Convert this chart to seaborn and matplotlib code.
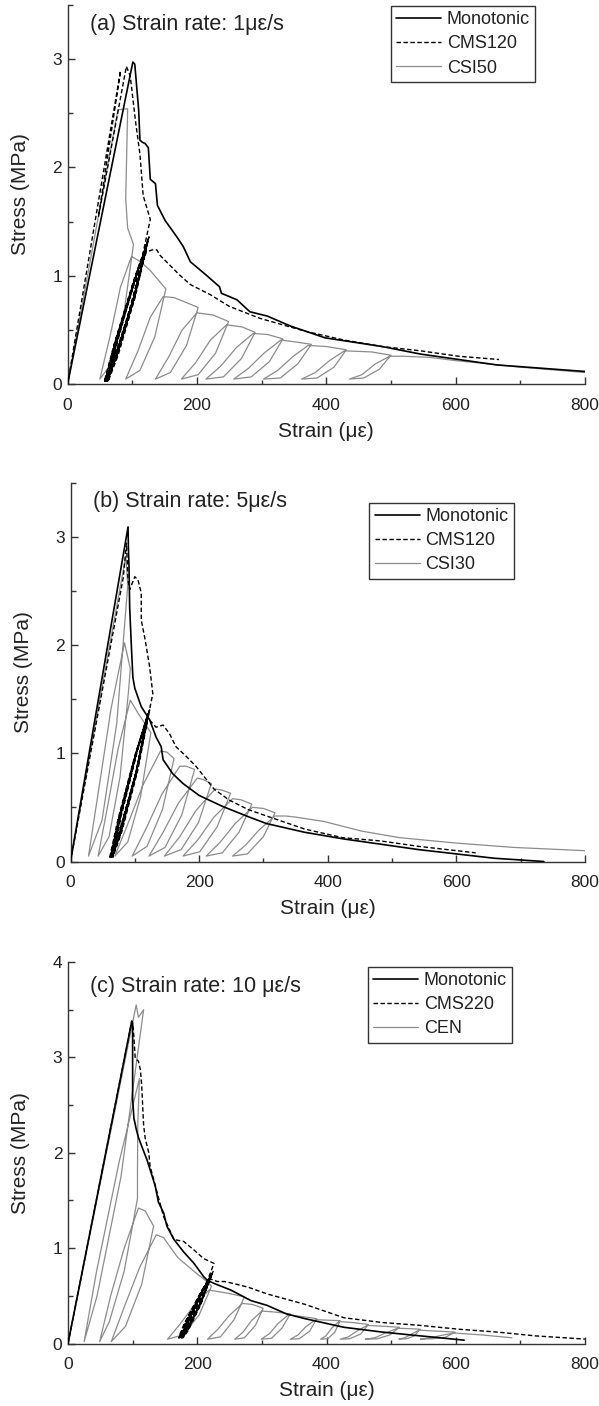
import matplotlib
matplotlib.use("Agg")
import matplotlib.pyplot as plt
import numpy as np
import pandas as pd
import seaborn as sns
from matplotlib.ticker import MultipleLocator

# ---------------- data (strain in micro-strain, stress in MPa) ----------------
# Panel (a): strain rate 1 με/s
a_mono_x = [0, 101, 104, 106, 110, 112, 116, 120, 125, 128, 136, 139, 151, 169, 179, 190, 214, 235, 238,
            262, 282, 309, 344, 398, 486, 546, 605, 664, 800]
a_mono_y = [0, 2.97, 2.95, 2.81, 2.53, 2.25, 2.23, 2.22, 2.18, 1.89, 1.85, 1.65, 1.51, 1.36, 1.27, 1.13, 1.01,
            0.90, 0.84, 0.78, 0.67, 0.63, 0.54, 0.43, 0.35, 0.28, 0.23, 0.18, 0.12]

a_cms_x = [0, 82, 48, 91, 97, 105, 112, 117, 128,
           106, 78, 62, 76, 104, 123,
           102, 75, 60, 74.5, 103, 122,
           101, 74, 59, 73.5, 102, 121,
           100, 73.4, 58, 73.7, 104, 124,
           103, 76.4, 61, 76, 105.6, 125,
           104.6, 78.2, 63, 77.8, 107, 126,
           104, 76, 60, 74, 101.6, 120,
           99, 72.4, 57, 72.4, 102.4, 122,
           100.8, 73.6, 58, 73, 102.6, 122,
           131, 138, 143, 158, 173, 190, 220, 250, 297, 368, 427, 486, 546, 605, 667]
a_cms_y = [0, 2.89, 1.55, 2.93, 2.84, 2.43, 2.12, 1.74, 1.52,
           0.912, 0.304, 0.03, 0.387, 0.97, 1.29,
           0.774, 0.258, 0.03, 0.381, 0.95, 1.27,
           0.762, 0.254, 0.03, 0.375, 0.94, 1.25,
           0.75, 0.25, 0.03, 0.396, 0.99, 1.32,
           0.792, 0.264, 0.03, 0.402, 1.005, 1.34,
           0.804, 0.268, 0.03, 0.408, 1.02, 1.36,
           0.816, 0.272, 0.03, 0.372, 0.93, 1.24,
           0.744, 0.248, 0.03, 0.378, 0.945, 1.26,
           0.756, 0.252, 0.03, 0.366, 0.915, 1.22,
           1.24, 1.24, 1.19, 1.10, 1.01, 0.92, 0.83, 0.72, 0.61, 0.49, 0.41, 0.35, 0.31, 0.26, 0.23]

a_csi_x = [0, 78, 93, 90, 93, 102,
           87, 68, 50, 66, 82, 99,
           113, 128, 152,
           135, 112, 90, 109, 128, 148,
           165, 202,
           184, 159, 136, 156, 177, 200,
           225, 249,
           229, 202, 176, 198, 221, 246,
           270, 290,
           269, 241, 214, 237, 261, 287,
           310, 333,
           312, 284, 257, 280, 304, 330,
           355, 377,
           356, 329, 303, 325, 349, 372,
           400, 431,
           412, 386, 362, 383, 405, 428,
           470, 500,
           482, 458, 436, 455, 476, 498,
           520, 560, 600, 650, 700, 800]
a_csi_y = [0, 2.53, 2.54, 1.71, 1.44, 1.29,
           0.65, 0.19, 0.05, 0.45, 0.90, 1.18,
           1.13, 1.05, 0.88,
           0.44, 0.13, 0.05, 0.31, 0.62, 0.81,
           0.80, 0.71,
           0.36, 0.11, 0.05, 0.25, 0.50, 0.66,
           0.64, 0.58,
           0.29, 0.09, 0.05, 0.20, 0.41, 0.55,
           0.53, 0.48,
           0.24, 0.07, 0.05, 0.17, 0.34, 0.47,
           0.46, 0.42,
           0.21, 0.07, 0.05, 0.15, 0.29, 0.41,
           0.39, 0.37,
           0.19, 0.06, 0.05, 0.13, 0.26, 0.36,
           0.35, 0.32,
           0.16, 0.06, 0.05, 0.11, 0.22, 0.31,
           0.30, 0.27,
           0.14, 0.06, 0.05, 0.09, 0.19, 0.26,
           0.26, 0.25, 0.22, 0.19, 0.16, 0.11]

# Panel (b): strain rate 5 με/s
b_mono_x = [0, 89.5, 90, 91, 92, 94.7, 97, 100, 110, 123, 133, 141, 144, 159, 175, 200, 236, 278, 305, 364,
            423, 482, 541, 600, 659, 736]
b_mono_y = [0, 3.09, 2.90, 2.72, 2.35, 1.98, 1.70, 1.60, 1.43, 1.31, 1.15, 1.06, 0.94, 0.81, 0.72, 0.61, 0.51,
            0.41, 0.35, 0.27, 0.21, 0.16, 0.11, 0.07, 0.03, 0.0]

b_cms_x = [0, 82, 87, 89.5, 92, 100, 105, 110, 110, 115, 118, 123, 128,
           106.7, 79.4, 64, 76.6, 102.6, 120,
           101.5, 77, 63, 75.6, 101.6, 119,
           101.8, 78.5, 65, 77.6, 103.6, 121,
           101.7, 76.4, 62, 74.6, 100.6, 118,
           100.8, 77.5, 64, 77.5, 104.8, 123,
           104.5, 80, 66, 78.6, 104.6, 122,
           102.7, 77.4, 63, 75.9, 102.3, 120,
           100.7, 75.4, 61, 73.9, 100.3, 118,
           124, 133, 144, 154, 164, 180, 195, 223, 246, 276, 305, 364, 423, 482, 541, 630]
b_cms_y = [0, 2.62, 2.94, 2.60, 2.51, 2.63, 2.60, 2.48, 2.23, 2.08, 1.98, 1.80, 1.55,
           0.93, 0.31, 0.04, 0.408, 1.02, 1.36,
           0.816, 0.272, 0.04, 0.399, 0.998, 1.33,
           0.798, 0.266, 0.04, 0.411, 1.028, 1.37,
           0.822, 0.274, 0.04, 0.39, 0.975, 1.30,
           0.78, 0.26, 0.04, 0.42, 1.05, 1.40,
           0.84, 0.28, 0.04, 0.414, 1.035, 1.38,
           0.828, 0.276, 0.04, 0.399, 0.998, 1.33,
           0.798, 0.266, 0.04, 0.393, 0.983, 1.31,
           1.30, 1.24, 1.26, 1.18, 1.06, 0.97, 0.88, 0.67, 0.57, 0.48, 0.42, 0.30, 0.22, 0.19, 0.14, 0.08]

b_csi_x = [0, 86, 89,
           72, 49, 28, 45, 63, 84,
           93, 90,
           77, 60, 43, 58, 74, 93,
           105, 125,
           109, 89, 69, 90, 113, 140,
           150, 161,
           143, 119, 96, 118, 142, 170,
           180, 193,
           173, 147, 122, 144, 168, 197,
           205, 219,
           199, 172, 146, 170, 195, 225,
           235, 249,
           228, 201, 175, 198, 223, 252,
           265, 282,
           262, 236, 211, 233, 256, 283,
           300, 318,
           300, 275, 252, 272, 293, 318,
           335, 350, 394, 453, 512, 600, 689, 800]
b_csi_y = [0, 2.82, 2.55,
           1.28, 0.38, 0.05, 0.71, 1.41, 2.02,
           1.78, 1.56,
           0.78, 0.23, 0.05, 0.52, 1.04, 1.49,
           1.37, 1.19,
           0.60, 0.18, 0.05, 0.36, 0.71, 1.02,
           1.01, 0.95,
           0.48, 0.14, 0.05, 0.31, 0.62, 0.88,
           0.88, 0.85,
           0.43, 0.13, 0.05, 0.27, 0.54, 0.77,
           0.76, 0.72,
           0.36, 0.11, 0.05, 0.23, 0.47, 0.67,
           0.66, 0.63,
           0.32, 0.09, 0.05, 0.20, 0.41, 0.58,
           0.57, 0.53,
           0.27, 0.08, 0.05, 0.18, 0.35, 0.50,
           0.49, 0.45,
           0.23, 0.07, 0.05, 0.15, 0.29, 0.42,
           0.42, 0.41, 0.37, 0.28, 0.22, 0.17, 0.13, 0.10]

# Panel (c): strain rate 10 με/s
c_mono_x = [0, 98.7, 100, 100, 102, 104, 105.5, 109, 114, 122, 130, 135, 140, 148, 153, 164, 179, 195, 210,
            216, 226, 252, 283, 308, 338, 367, 427, 486, 545, 613]
c_mono_y = [0, 3.38, 3.36, 2.57, 2.36, 2.30, 2.25, 2.16, 2.07, 1.93, 1.76, 1.65, 1.48, 1.37, 1.23, 1.09, 0.96,
            0.84, 0.70, 0.66, 0.63, 0.56, 0.45, 0.40, 0.31, 0.26, 0.17, 0.12, 0.08, 0.035]

c_cms_x = [0, 98.7, 101, 104, 109, 112, 114, 117, 119.5, 125, 127, 138, 148, 164, 179, 195, 210, 226,
           206.7, 182.5, 172, 181.3, 205.9, 222,
           205, 183.1, 174, 182.5, 205.7, 221,
           204.9, 183.8, 175, 183.9, 207.4, 223,
           206.5, 185.1, 176, 183.8, 205.4, 220,
           205.6, 186.2, 178, 185.9, 207.5, 222,
           206.3, 185.7, 177, 186, 209.5, 225,
           206.4, 182.8, 173, 181.8, 205.4, 221,
           203.2, 180.3, 171, 179.6, 203.3, 219,
           231, 242, 249, 279, 308, 367, 427, 486, 545, 604, 664, 723, 800]
c_cms_y = [0, 3.38, 3.31, 2.99, 2.96, 2.87, 2.71, 2.29, 2.15, 2.00, 1.86, 1.58, 1.33, 1.09, 1.07, 0.98, 0.89, 0.84,
           0.504, 0.168, 0.06, 0.216, 0.54, 0.72,
           0.432, 0.144, 0.06, 0.21, 0.525, 0.70,
           0.42, 0.14, 0.06, 0.222, 0.555, 0.74,
           0.444, 0.148, 0.06, 0.207, 0.518, 0.69,
           0.414, 0.138, 0.06, 0.213, 0.533, 0.71,
           0.426, 0.142, 0.06, 0.228, 0.57, 0.76,
           0.456, 0.152, 0.06, 0.213, 0.533, 0.71,
           0.426, 0.142, 0.06, 0.204, 0.51, 0.68,
           0.65, 0.65, 0.64, 0.59, 0.52, 0.41, 0.27, 0.22, 0.19, 0.15, 0.12, 0.08, 0.046]

c_cen_x = [0, 105.5, 109, 117,
           82, 45, 25, 44, 79, 110.6,
           108, 107.5, 107.5,
           87, 64, 49, 66, 87, 109,
           119.5, 132.5,
           114, 89, 67, 88, 111, 136.6,
           148, 153, 170, 198, 213, 222,
           203, 178, 154, 173, 194, 218,
           245, 273,
           257, 236, 216, 232, 249, 270,
           285, 302,
           290, 273, 258, 271, 284, 300,
           320, 344,
           331, 315, 299, 312, 325, 341,
           365, 385,
           374, 358, 344, 356, 368, 383,
           400, 421,
           413, 402, 391, 399, 408, 419,
           440, 465,
           453, 436, 421, 434, 447, 463,
           490, 513,
           498, 479, 460, 475, 491, 510,
           530, 545,
           536, 524, 512, 521, 532, 543,
           570, 599,
           584, 564, 545, 561, 578, 597,
           640, 687]
c_cen_y = [0, 3.55, 3.42, 3.50,
           1.75, 0.50, 0.02, 0.75, 1.90, 2.78,
           2.30, 1.80, 1.52,
           0.76, 0.23, 0.02, 0.50, 1.00, 1.42,
           1.39, 1.23,
           0.62, 0.18, 0.02, 0.40, 0.80, 1.14,
           1.11, 1.06, 0.90, 0.74, 0.66, 0.60,
           0.30, 0.09, 0.045, 0.20, 0.39, 0.56,
           0.53, 0.49,
           0.25, 0.07, 0.045, 0.15, 0.29, 0.42,
           0.41, 0.37,
           0.19, 0.06, 0.045, 0.12, 0.24, 0.34,
           0.33, 0.31,
           0.16, 0.055, 0.045, 0.105, 0.21, 0.30,
           0.28, 0.26,
           0.13, 0.05, 0.045, 0.09, 0.175, 0.25,
           0.245, 0.24,
           0.12, 0.05, 0.045, 0.08, 0.16, 0.23,
           0.22, 0.20,
           0.10, 0.05, 0.045, 0.07, 0.13, 0.19,
           0.18, 0.17,
           0.09, 0.05, 0.045, 0.06, 0.11, 0.16,
           0.155, 0.15,
           0.08, 0.05, 0.045, 0.06, 0.10, 0.14,
           0.13, 0.12,
           0.065, 0.05, 0.045, 0.06, 0.085, 0.11,
           0.09, 0.06]

panel_titles = ["(a) Strain rate: 1\u03bc\u03b5/s", "(b) Strain rate: 5\u03bc\u03b5/s",
                "(c) Strain rate: 10 \u03bc\u03b5/s"]
legend_labels = [["Monotonic", "CMS120", "CSI50"],
                 ["Monotonic", "CMS120", "CSI30"],
                 ["Monotonic", "CMS220", "CEN"]]
x_ticks = [0, 200, 400, 600, 800]

# ---------------- style ----------------
sns.set_theme(style="ticks")
plt.rcParams["font.family"] = ["Liberation Sans", "DejaVu Sans"]
plt.rcParams.update({
    "axes.edgecolor": "#333333",
    "axes.linewidth": 1.0,
    "xtick.color": "#333333",
    "ytick.color": "#333333",
    "xtick.labelcolor": "#222222",
    "ytick.labelcolor": "#222222",
    "xtick.direction": "in",
    "ytick.direction": "in",
    "xtick.major.size": 5,
    "ytick.major.size": 5,
    "xtick.minor.size": 3,
    "ytick.minor.size": 3.5,
    "xtick.major.width": 1.0,
    "ytick.major.width": 1.0,
    "xtick.minor.width": 1.0,
    "ytick.minor.width": 1.0,
})

fig = plt.figure(figsize=(5.99, 14.06), dpi=100)
W, H = 599.0, 1406.0
# (left px, right px, bottom px (y=0), top px)
frames = [(67.5, 585.0, 384.5, 4.5), (70.5, 585.0, 861.5, 482.5), (68.0, 585.0, 1343.5, 962.0)]
ytops = [3.5, 3.5, 4.0]
legend_anchor = [(0.625, 0.997), (0.581, 0.947), (0.580, 0.988)]
title_pos = [(0.043, 0.947), (0.044, 0.949), (0.042, 0.935)]

series = [
    (a_mono_x, a_mono_y, a_cms_x, a_cms_y, a_csi_x, a_csi_y),
    (b_mono_x, b_mono_y, b_cms_x, b_cms_y, b_csi_x, b_csi_y),
    (c_mono_x, c_mono_y, c_cms_x, c_cms_y, c_cen_x, c_cen_y),
]

gray = "#8c8c8c"
dash = (0, (3.2, 1.8))

for i, (l, r, b, t) in enumerate(frames):
    ax = fig.add_axes([l / W, 1 - b / H, (r - l) / W, (b - t) / H])
    mx, my, cx, cy, gx, gy = series[i]
    labs = legend_labels[i]
    sns.lineplot(data=pd.DataFrame({"strain": gx, "stress": gy}), x="strain", y="stress",
                 sort=False, estimator=None, ax=ax, color=gray, linewidth=0.9, label=labs[2], zorder=1)
    sns.lineplot(data=pd.DataFrame({"strain": cx, "stress": cy}), x="strain", y="stress",
                 sort=False, estimator=None, ax=ax, color="black", linewidth=1.0, linestyle=dash,
                 label=labs[1], zorder=2)
    sns.lineplot(data=pd.DataFrame({"strain": mx, "stress": my}), x="strain", y="stress",
                 sort=False, estimator=None, ax=ax, color="black", linewidth=1.2, label=labs[0], zorder=3)

    ax.set_xlim(0, 800)
    ax.set_ylim(0, ytops[i])
    ax.set_xticks(x_ticks)
    ax.xaxis.set_minor_locator(MultipleLocator(100))
    ax.yaxis.set_major_locator(MultipleLocator(1))
    ax.yaxis.set_minor_locator(MultipleLocator(0.5))
    ax.tick_params(axis="x", which="both", labelsize=12.5, pad=10)
    ax.tick_params(axis="y", which="both", labelsize=12.5, pad=4)
    sns.despine(ax=ax)
    ax.set_xlabel("Strain (\u03bc\u03b5)", fontsize=15, labelpad=6, color="#222222")
    ax.set_ylabel("Stress (MPa)", fontsize=15, labelpad=16, color="#222222")

    ax.text(title_pos[i][0], title_pos[i][1], panel_titles[i], transform=ax.transAxes,
            fontsize=15.5, va="center", ha="left", color="#222222")

    handles, labels = ax.get_legend_handles_labels()
    order = [labels.index(s) for s in labs]
    leg = ax.legend([handles[k] for k in order], [labels[k] for k in order],
                    loc="upper left", bbox_to_anchor=legend_anchor[i], frameon=True, fancybox=False,
                    edgecolor="#333333", framealpha=1, fontsize=13, handlelength=2.5,
                    handletextpad=0.3, labelspacing=0.4, borderpad=0.3, borderaxespad=0)
    leg.get_frame().set_linewidth(1.0)
    for txt in leg.get_texts():
        txt.set_color("#222222")

fig.savefig("out.png", dpi=100)
